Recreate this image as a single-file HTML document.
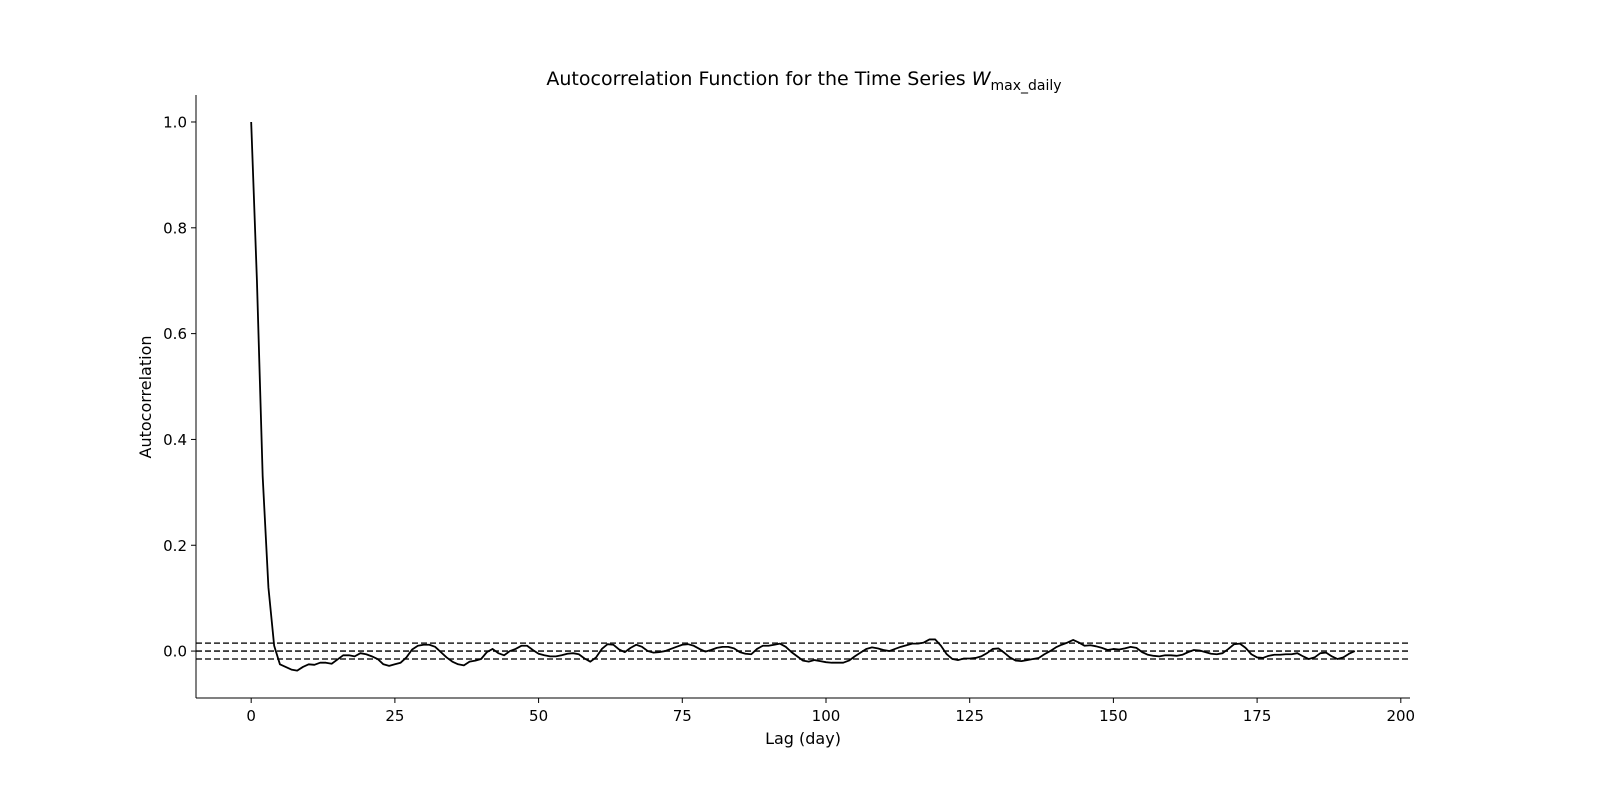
<!DOCTYPE html>
<html><head><meta charset="utf-8"><style>
html,body{margin:0;padding:0;background:#fff;width:1600px;height:800px;overflow:hidden}
svg text{font-family:"DejaVu Sans","Liberation Sans",sans-serif;fill:#000}
</style></head><body>
<svg id="chart" width="1600" height="800" xmlns="http://www.w3.org/2000/svg">
<text x="804" y="85" font-size="19" text-anchor="middle">Autocorrelation Function for the Time Series <tspan font-style="italic">W</tspan><tspan font-size="14" dy="5">max_daily</tspan></text>
<g id="plot"></g>
<text x="803" y="744" font-size="16" text-anchor="middle">Lag (day)</text>
<text transform="translate(151,397) rotate(-90)" font-size="16" text-anchor="middle">Autocorrelation</text>
</svg>
<script>
const acfValues = [1.0,0.70,0.33,0.12,0.01,-0.025,-0.03,-0.035,-0.037,-0.03,-0.025,-0.026,-0.022,-0.022,-0.024,-0.016,-0.008,-0.008,-0.01,-0.004,-0.006,-0.01,-0.015,-0.025,-0.028,-0.025,-0.022,-0.012,0.003,0.01,0.012,0.012,0.008,-0.002,-0.012,-0.02,-0.025,-0.027,-0.02,-0.018,-0.015,-0.002,0.004,-0.004,-0.008,0.0,0.004,0.01,0.01,0.002,-0.005,-0.008,-0.01,-0.01,-0.008,-0.005,-0.004,-0.006,-0.014,-0.02,-0.012,0.004,0.013,0.012,0.003,-0.002,0.006,0.012,0.008,0.0,-0.003,-0.002,0.0,0.004,0.008,0.012,0.013,0.01,0.004,-0.001,0.002,0.006,0.008,0.008,0.005,-0.002,-0.005,-0.006,0.004,0.01,0.01,0.012,0.014,0.008,-0.002,-0.01,-0.018,-0.02,-0.017,-0.019,-0.021,-0.022,-0.022,-0.022,-0.018,-0.01,-0.003,0.004,0.007,0.005,0.002,0.0,0.004,0.008,0.011,0.014,0.014,0.016,0.022,0.022,0.01,-0.006,-0.015,-0.017,-0.014,-0.014,-0.013,-0.01,-0.004,0.004,0.005,-0.003,-0.012,-0.018,-0.019,-0.017,-0.015,-0.013,-0.006,0.0,0.007,0.012,0.016,0.021,0.016,0.01,0.011,0.009,0.006,0.002,0.004,0.003,0.005,0.008,0.006,-0.002,-0.007,-0.009,-0.01,-0.008,-0.008,-0.009,-0.007,-0.002,0.002,0.001,-0.002,-0.005,-0.006,-0.004,0.004,0.013,0.014,0.006,-0.006,-0.012,-0.013,-0.009,-0.007,-0.007,-0.006,-0.006,-0.004,-0.01,-0.015,-0.012,-0.004,-0.003,-0.01,-0.015,-0.012,-0.005,0.0];
const confBounds = [0.015, 0.0, -0.015];
const xTicks = [0,25,50,75,100,125,150,175,200];
const yTicks = [0.0,0.2,0.4,0.6,0.8,1.0];

const NS="http://www.w3.org/2000/svg";
const L=196,R=1410,T=95,B=698;
const xMin=-9.6,xMax=201.6,yMin=-0.0887,yMax=1.051;
const xs=v=>L+(v-xMin)/(xMax-xMin)*(R-L);
const ys=v=>B-(v-yMin)/(yMax-yMin)*(B-T);
const g=document.getElementById('plot');
function mk(tag,attrs){const e=document.createElementNS(NS,tag);for(const k in attrs)e.setAttribute(k,attrs[k]);g.appendChild(e);return e;}

confBounds.forEach(c=>{
  const ln=mk('line',{x1:L,x2:R,y1:ys(c),y2:ys(c),stroke:'#222','stroke-width':1.6,'stroke-dasharray':'6,3'});
  
  
});

const pts=acfValues.map((v,i)=>xs(i).toFixed(2)+','+ys(v).toFixed(2)).join(' ');
const pl=mk('polyline',{points:pts,fill:'none',stroke:'#000','stroke-width':1.8,'stroke-linejoin':'round'});



const ls=mk('line',{x1:L,x2:L,y1:T,y2:B,stroke:'#000','stroke-width':1});


const bs=mk('line',{x1:L,x2:R,y1:B,y2:B,stroke:'#000','stroke-width':1});



xTicks.forEach(t=>{
  const x=xs(t);
  const tk=mk('line',{x1:x,x2:x,y1:B,y2:B+5,stroke:'#000','stroke-width':1});
  
  
  const tx=mk('text',{x:x,y:B+23,'font-size':15,'text-anchor':'middle'});
  tx.textContent=t;
  
  
});
yTicks.forEach(t=>{
  const y=ys(t);
  const tk=mk('line',{x1:L-5,x2:L,y1:y,y2:y,stroke:'#000','stroke-width':1});
  
  
  const tx=mk('text',{x:L-9,y:y+5.5,'font-size':15,'text-anchor':'end'});
  tx.textContent=t.toFixed(1);
  
  
});
</script>
</body></html>
